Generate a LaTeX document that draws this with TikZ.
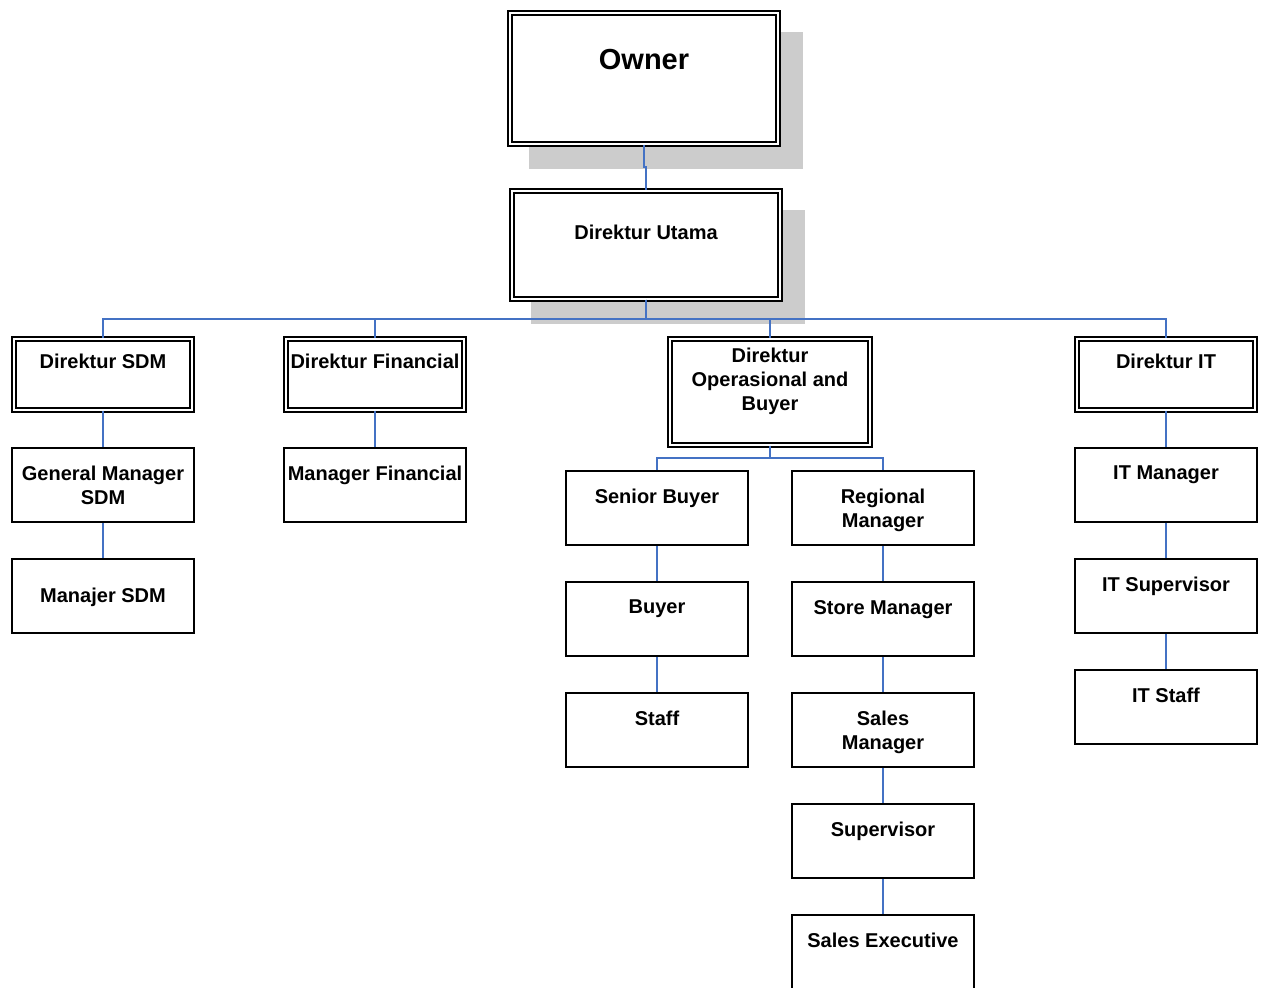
\documentclass[tikz,border=0pt]{standalone}
\usepackage{fontspec}
\setmainfont{Liberation Sans}
\usetikzlibrary{backgrounds}
\definecolor{connc}{RGB}{68,114,196}
\definecolor{shadec}{RGB}{204,204,204}
\begin{document}
\begin{tikzpicture}[x=0.5pt,y=-0.5pt,
  txt/.style={font=\fontsize{10pt}{12pt}\selectfont\bfseries, align=center, inner sep=0pt, anchor=north},
  box/.style={draw, line width=0.9pt, fill=white, minimum width=91pt, minimum height=37pt, inner sep=0pt},
  dbox/.style={draw, double, double distance=1.25pt, line width=0.75pt, fill=white, inner sep=0pt,
     minimum width=89pt, minimum height=35.5pt},
  lab/.style={label={[txt, yshift=-9.3pt]north:#1}},
  conn/.style={draw=connc, line width=1pt}]
\useasboundingbox (0,0) rectangle (1264,988);

% top level
\node[dbox, minimum width=134pt, minimum height=65.5pt,
  label={[txt, font=\fontsize{14.5pt}{17pt}\selectfont\bfseries, yshift=-18.1pt]north:Owner}] (own) at (644,78.5) {};
\node[dbox, minimum width=134pt, minimum height=54pt,
  label={[txt, yshift=-17.3pt]north:Direktur Utama}] (du) at (646,245) {};

% directors
\node[dbox, label={[txt, yshift=-7.7pt]north:Direktur SDM}] (dsdm) at (103,374.5) {};
\node[dbox, label={[txt, yshift=-7.7pt]north:Direktur Financial}] (dfin) at (375,374.5) {};
\node[dbox, minimum width=100pt, minimum height=53pt,
  label={[txt, yshift=-4.7pt]north:Direktur\\Operasional and\\Buyer}] (dops) at (770,392) {};
\node[dbox, label={[txt, yshift=-7.7pt]north:Direktur IT}] (dit) at (1166,374.5) {};

% SDM column
\node[box, lab={General Manager\\SDM}] (gm) at (103,485) {};
\node[box, label={[txt, yshift=-15pt]north:Manajer SDM}] (msdm) at (103,596) {};

% Financial column
\node[box, lab={Manager Financial}] (mfin) at (375,485) {};

% Operational columns
\node[box, lab={Senior Buyer}] (sb) at (657,508) {};
\node[box, lab={Buyer}] (buy) at (657,619) {};
\node[box, lab={Staff}] (stf) at (657,730) {};
\node[box, lab={Regional\\Manager}] (rm) at (883,508) {};
\node[box, lab={Store Manager}] (stm) at (883,619) {};
\node[box, lab={Sales\\Manager}] (sm) at (883,730) {};
\node[box, lab={Supervisor}] (sup) at (883,841) {};
\node[box, lab={Sales Executive}] (se) at (883,952) {};

% IT column
\node[box, lab={IT Manager}] (itm) at (1166,485) {};
\node[box, lab={IT Supervisor}] (its) at (1166,596) {};
\node[box, lab={IT Staff}] (itst) at (1166,707) {};

% shadows
\begin{scope}[on background layer]
  \fill[shadec] ([shift={(20,20)}]own.north west) rectangle ([shift={(24,24)}]own.south east);
  \fill[shadec] ([shift={(20,20)}]du.north west) rectangle ([shift={(24,24)}]du.south east);
\end{scope}

% connectors
\draw[conn] (own.south) -- ++(0,22) -| (du.north);
\draw[conn] (du.south) -- ++(0,19) -| (dsdm.north);
\draw[conn] (du.south) -- ++(0,19) -| (dfin.north);
\draw[conn] (du.south) -- ++(0,19) -| (dops.north);
\draw[conn] (du.south) -- ++(0,19) -| (dit.north);
\draw[conn] (dsdm.south) -- (gm.north);
\draw[conn] (gm.south) -- (msdm.north);
\draw[conn] (dfin.south) -- (mfin.north);
\draw[conn] (dops.south) -- ++(0,12) -| (sb.north);
\draw[conn] (dops.south) -- ++(0,12) -| (rm.north);
\draw[conn] (sb.south) -- (buy.north);
\draw[conn] (buy.south) -- (stf.north);
\draw[conn] (rm.south) -- (stm.north);
\draw[conn] (stm.south) -- (sm.north);
\draw[conn] (sm.south) -- (sup.north);
\draw[conn] (sup.south) -- (se.north);
\draw[conn] (dit.south) -- (itm.north);
\draw[conn] (itm.south) -- (its.north);
\draw[conn] (its.south) -- (itst.north);
\end{tikzpicture}
\end{document}
